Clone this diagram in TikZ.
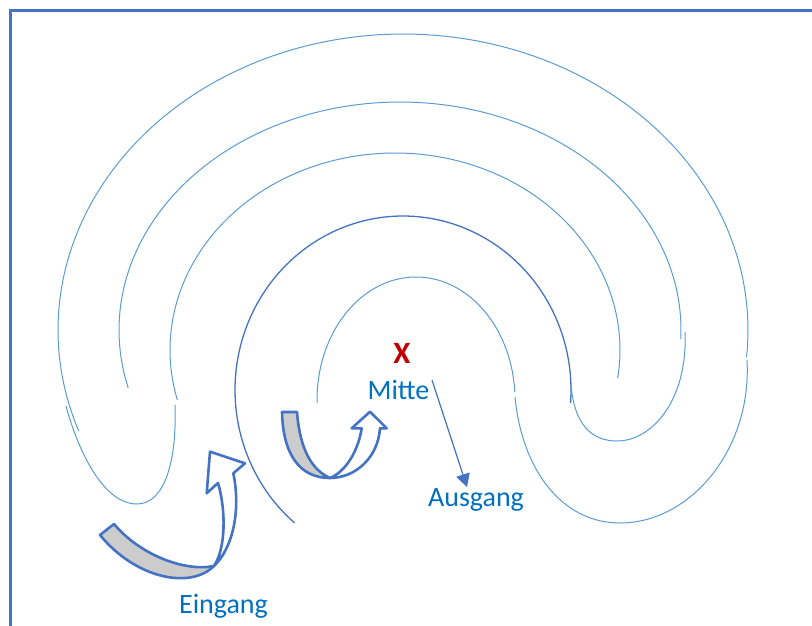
\documentclass[tikz,border=0pt]{standalone}
\usepackage{fontspec}
\setmainfont{Carlito}
\usetikzlibrary{arrows.meta}
\definecolor{lblue}{HTML}{5B9BD5}
\definecolor{dblue}{HTML}{4472C4}
\definecolor{tblue}{HTML}{0070C0}
\definecolor{xred}{HTML}{C00000}
\definecolor{band}{HTML}{CCCCCC}
\begin{document}
\begin{tikzpicture}[x=1pt,y=-1pt,
  arcl/.style={draw=lblue,line width=1pt},
  arcd/.style={draw=dblue,line width=1.3pt},
  ribbon/.style={draw=dblue,line width=2.6pt,line join=round},
  frame/.style={draw=dblue,line width=3pt},
  lbl/.style={text=tblue,font=\fontsize{28}{32}\selectfont,anchor=base,inner sep=0pt},
  xlbl/.style={text=xred,font=\bfseries\fontsize{31}{34}\selectfont,anchor=base,inner sep=0pt},
  pointer/.style={draw=dblue,line width=1.2pt,-{Triangle[length=13pt,width=14pt]}}]
\useasboundingbox (0,0) rectangle (812,626);
\clip (0,0) rectangle (812,626);
% frame (cut at right and bottom)
\draw[frame] (10,640) -- (10,11) -- (830,11);
% big arcs
\draw[arcl] plot[domain=-5.2:200,samples=150] ({403+345*cos(\x)},{330-296*sin(\x)});
\draw[arcl] plot[domain=-2.3:194.7,samples=150] ({400+281*cos(\x)},{330-228*sin(\x)});
\draw[arcl] plot[domain=-8.2:194.7,samples=150] ({395+225*cos(\x)},{350-197*sin(\x)});
\draw[arcd] plot[domain=-4.3:229.8,samples=150] ({403+168*cos(\x)},{390-174*sin(\x)});
\draw[arcl] plot[domain=3.7:181.4,samples=120] ({416+99*cos(\x)},{400-123*sin(\x)});
% lower U turns
\draw[arcl] (66,406) .. controls (77,447) and (102,504) .. (137,504) .. controls (165,504) and (177,460) .. (175,405);
\draw[arcl] (571,384) .. controls (574,425) and (592,441) .. (617,441) .. controls (652,441) and (688,400) .. (685,332);
\draw[arcl] (515,397) .. controls (522,470) and (562,523) .. (620,523) .. controls (690,523) and (752,450) .. (747,360);
% big curved arrow (Eingang)
\coordinate (t1) at (214,566);
\filldraw[ribbon,fill=band] (100,535) .. controls (135,578) and (190,590) .. (t1) .. controls (185,572) and (140,555) .. (114,524) -- cycle;
\filldraw[ribbon,fill=white] (t1) .. controls (226,548) and (226,510) .. (218,483) -- (206.7,493.3) -- (210,451.7) -- (245,463.3) -- (233.3,473.3) .. controls (241,510) and (233,548) .. (t1) -- cycle;
% small curved arrow (to Mitte)
\coordinate (t2) at (330,478);
\filldraw[ribbon,fill=band] (282,412) .. controls (283,455) and (300,478) .. (t2) .. controls (312,470) and (300,450) .. (297,412) -- cycle;
\filldraw[ribbon,fill=white] (t2) .. controls (345,472) and (358,452) .. (361.7,428.3) -- (351.7,428.3) -- (370,411.7) -- (386.7,428.3) -- (380,428.3) .. controls (378,458) and (355,478) .. (t2) -- cycle;
% texts
\node[xlbl] (x) at (402,363) {X};
\node[lbl] (mitte) at (398.5,399) {Mitte};
\node[lbl] (ausgang) at (476,506) {Ausgang};
\node[lbl] (eingang) at (223.5,613) {Eingang};
% pointer to Ausgang
\coordinate (ps) at (432,380);
\coordinate (pe) at (467,487);
\draw[pointer] (ps) -- (pe);
\end{tikzpicture}
\end{document}
